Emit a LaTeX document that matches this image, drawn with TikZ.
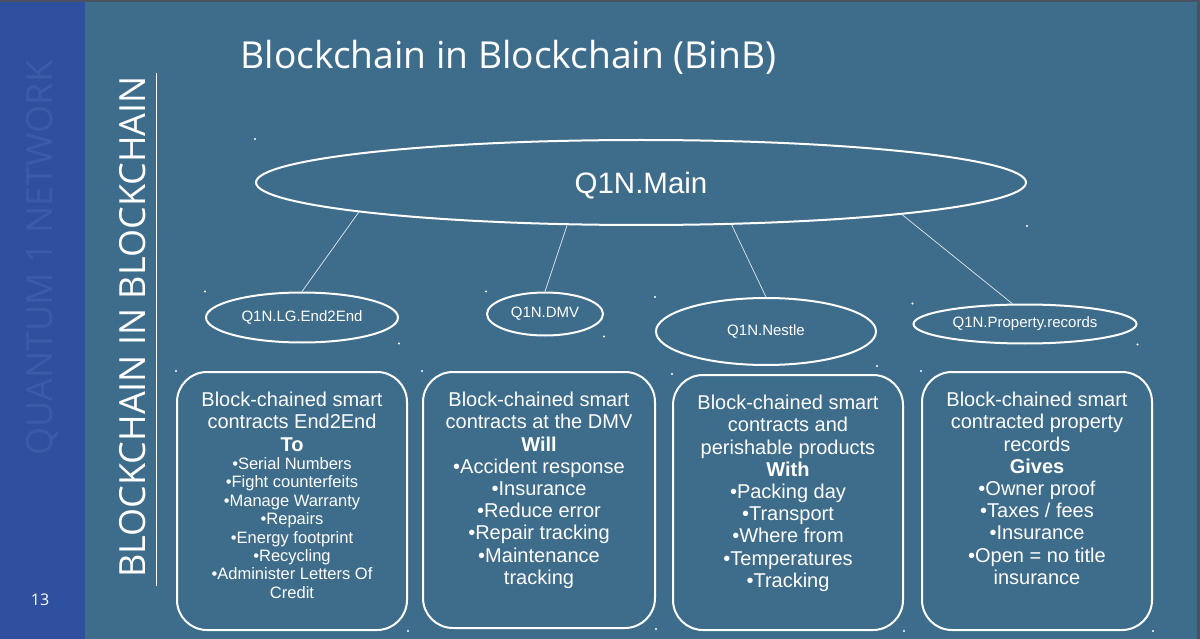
\documentclass[tikz,border=0pt]{standalone}
\usepackage{fontspec}
\setmainfont{Liberation Sans}
\newfontfamily\opensans{Open Sans}
\usetikzlibrary{shapes.geometric, positioning}
\definecolor{slidebg}{HTML}{3E6C8B}
\definecolor{stripblue}{HTML}{2F509E}
\definecolor{stripfaint}{HTML}{3A5CA8}
\definecolor{framegray}{HTML}{4A5160}

\begin{document}
\begin{tikzpicture}[
    x=1pt, y=-1pt,
    chain/.style={ellipse, draw=white, line width=2pt, inner sep=0pt, text=white, font=\fontsize{15}{17}\selectfont},
    card/.style={rectangle, draw=white, line width=2pt, rounded corners=30pt, minimum width=230pt, minimum height=258pt},
    cardtext/.style={text=white, text width=224pt, align=flush center, inner sep=0pt, font=\fontsize{20}{22.2}\selectfont},
    link/.style={draw=white!85!slidebg, line width=0.7pt},
    sidetext/.style={rotate=90, font=\opensans\fontsize{36}{40}\selectfont}
]

% slide background
\fill[slidebg] (0,0) rectangle (1200,639);
\fill[stripblue] (0,0) rectangle (85,639);
\fill[framegray] (0,0) rectangle (1200,2.5);
\fill[framegray] (1197,0) rectangle (1200,639);

\node[sidetext, text=stripfaint] (brand) at (43,258) {QUANTUM 1 NETWORK};
\node[sidetext, text=white] (side) at (133,327) {BLOCKCHAIN IN BLOCKCHAIN};
\draw[white, line width=0.8pt] (156,73) -- (156,586);
\node[text=white, font=\opensans\fontsize{16}{18}\selectfont] (pagenum) at (40,600) {13};
\node[anchor=west, text=white, font=\opensans\fontsize{37.2}{40}\selectfont] (title) at (237,57) {Blockchain in Blockchain (BinB)};

% chains
\node[chain, minimum width=770pt, minimum height=85pt, font=\fontsize{29.5}{33}\selectfont, text depth=0pt, yshift=-2pt] (main) at (641,180.5) {Q1N.Main};
\node[chain, minimum width=192pt, minimum height=50pt] (lg) at (302,317.5) {Q1N.LG.End2End};
\node[chain, minimum width=116pt, minimum height=43pt] (dmv) at (545,314) {Q1N.DMV};
\node[chain, minimum width=220pt, minimum height=67pt] (nestle) at (766,331.5) {Q1N.Nestle};
\node[chain, minimum width=223pt, minimum height=39pt] (prop) at (1025,324) {Q1N.Property.records};

\draw[link] (main.186.6) -- (lg.north);
\draw[link] (main.210.3) -- (dmv.north);
\draw[link] (main.335.8) -- (nestle.north);
\draw[link] (main.353.9) -- (prop.122);

% contract cards
\node[card] (lgcard) at (292,501) {};
\node[card, minimum width=232pt, minimum height=256pt] (dmvcard) at (539,500) {};
\node[card, minimum height=255pt] (nestlecard) at (788,502.5) {};
\node[card] (propcard) at (1037,501) {};

\node[cardtext, below=21pt of lgcard.north] (lgtext) {Block-chained smart\\contracts End2End\\\textbf{To}\par
  \fontsize{16.5}{18.4}\selectfont •Serial Numbers\\•Fight counterfeits\\•Manage Warranty\\•Repairs\\•Energy footprint\\•Recycling\\•Administer Letters Of\\Credit\par};
\node[cardtext, below=21pt of dmvcard.north] (dmvtext) {Block-chained smart\\contracts at the DMV\\\textbf{Will}\\•Accident response\\•Insurance\\•Reduce error\\•Repair tracking\\•Maintenance\\tracking};
\node[cardtext, below=21pt of nestlecard.north] (nestletext) {Block-chained smart\\contracts and\\perishable products\\\textbf{With}\\•Packing day\\•Transport\\•Where from\\•Temperatures\\•Tracking};
\node[cardtext, below=21pt of propcard.north] (proptext) {Block-chained smart\\contracted property\\records\\\textbf{Gives}\\•Owner proof\\•Taxes / fees\\•Insurance\\•Open = no title\\insurance};

% corner marks left by the slide
\foreach \n in {main, lg, dmv, nestle, prop, lgcard, dmvcard, nestlecard, propcard} {
  \fill[white] (\n.north -| \n.west) circle (1.2pt);
  \fill[white] (\n.south -| \n.east) circle (1.2pt);
}
\end{tikzpicture}
\end{document}
